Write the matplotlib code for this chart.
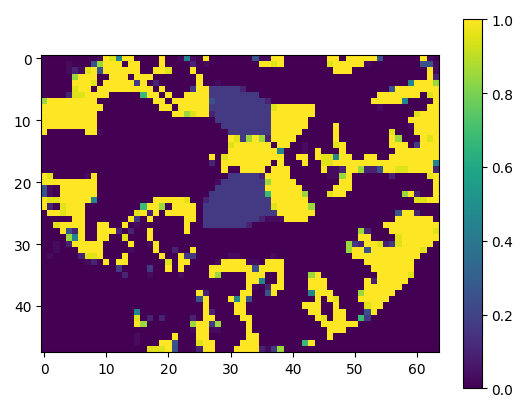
import numpy as np
import matplotlib
matplotlib.use("Agg")
import matplotlib.pyplot as plt

N_ROWS = 48
N_COLS = 64
LEVELS = {"a": 0.03, "p": 0.10, "b": 0.17, "B": 0.25, "T": 0.45, "G": 0.68,
          "L": 0.85, "l": 0.95, "#": 1.0}

# each row: "first-last:level" runs of cell values, everything else is 0
ROW_VALUES = [
    "9:a 10:# 11:l 12:T 13-14:# 19:# 22:a 23:T 24:a 26:# 34:B 35-36:a 37-38:# 46-47:# 49-53:# 54:B 61:# 62:a",
    "4:a 8:B 9:L 10-12:# 14-15:# 19:# 24:p 26:a 35-36:# 37:l 38:# 46:l 47-51:# 52:a 61-62:B 63:a",
    "4:a 5:p 6:a 7:l 8:# 9:B 10-15:# 18-19:# 20:l 24:# 47-49:# 62:# 63:a",
    "5:L 6-8:# 11-13:# 15-17:# 25:# 62:# 63:p",
    "5-7:# 8:l 10-14:# 15:b 16:# 18:p 25:# 28:a 59:T 60-62:# 63:L",
    "5:l 6-7:# 9-17:# 19:# 24:b 25-26:# 27-31:b 32:p 56:B 57-63:#",
    "4:p 5-6:l 7-10:# 16:G 17-18:# 20:# 23-26:# 27-34:b 54-60:# 62:l 63:#",
    "0:L 1-8:# 18-19:# 21-26:# 27:B 28-35:b 36:p 53-57:# 58:T 63:#",
    "0-9:# 19-20:# 22-26:# 27-36:b 37:l 38-43:# 54:a 62-63:#",
    "0-8:# 21-22:# 23:L 24:l 25-26:# 27:p 28-36:b 37-43:# 60:l 61-63:#",
    "0-8:# 28-36:b 37-42:# 59-63:#",
    "0-8:# 29-36:b 37-42:# 47:# 59:a 60-63:#",
    "0:# 7-8:# 9:a 30-36:b 37-41:# 47:# 56:l 60-63:#",
    "30:# 31:l 32:b 33:L 34:# 35:L 36:p 37-40:# 47:# 56:# 57:L 61:# 62:l 63:#",
    "30:l 31-36:# 38-39:# 42:a 47:l 48:# 56-58:# 60:b 61-63:#",
    "30-37:# 38:T 42:a 44:# 48:# 57-63:#",
    "27:# 29:l 30-38:# 41-42:# 44:# 45-46:l 47:T 48-49:# 52-53:# 56-63:#",
    "27:p 29-36:# 38:# 42:# 45-46:l 47-62:# 63:T",
    "29:# 32-35:# 37-39:# 45:# 46-47:a 48:p 49-50:# 51:L 52-53:p 54:B 55-56:# 57:l 58:l 59-62:# 63:p",
    "0:# 1:l 7:a 8:# 30-34:b 35:p 36-39:# 46-47:a 48:L 49:# 56:p 62:l 63:#",
    "0-8:# 28:a 29-35:b 36:L 37-40:# 48-49:# 63:#",
    "0:B 1:a 3-8:# 28-35:b 36-41:# 47-49:# 63:#",
    "0:B 1:a 3-8:# 27-35:b 36:G 37-41:# 42:L 46:l 47-48:# 58:L 59:# 60:p 63:#",
    "0:# 1-2:l 3-7:# 8:T 18-22:# 23:l 26:p 27-36:b 37-42:# 60-61:l 62-63:#",
    "0:# 1:p 3:l 4-6:# 16:G 17-18:# 19:L 21-24:# 26-36:b 37:l 38-42:# 43:L",
    "1-2:# 3:l 4-6:# 15:l 16:# 17:p 18:# 20-24:# 26-37:b 38-43:# 57:B 58-59:# 60:p",
    "5-6:# 14:# 15:b 17:# 23-24:# 26-34:b 35:p 36-38:a 39-42:# 57-62:#",
    "2:l 3-6:# 9-10:# 13:# 15:a 23:# 26-32:b 33:p 55-63:#",
    "3:# 4:B 5:p 6:# 9-11:# 12:p 14:p 17:# 23:# 51:L 52:p 56-62:# 63:l",
    "4:L 5:T 6:# 9-10:# 13:l 17:# 51-52:# 57:l 58-63:#",
    "2:a 4:p 5-9:# 14:# 17:a 18:# 49:L 50:b 51:p 52-53:# 54:l 55:p 56:b 57:l 58-62:#",
    "2:a 6-9:# 14:a 18:# 21:p 24:# 49:L 50-51:# 52:B 53-60:# 61:l",
    "1:a 6:p 7-8:l 9:# 13:# 19:# 22:# 23-24:b 30-31:a 37:a 50-60:#",
    "7:a 8:p 10:# 12-13:# 20:l 22-23:# 28:a 29-32:# 33-34:a 36-38:# 52-59:#",
    "12:b 17:b 20:# 22:# 27-33:# 34:B 35-38:# 53-59:#",
    "13:p 17:a 22:a 27:# 28:L 33-35:# 38:# 43:L 44:# 54-58:# 59:l",
    "33-34:# 35:T 38:# 43-45:# 52:# 53:p 54-58:#",
    "33:# 34:a 36:p 37-38:# 43-45:# 52-57:#",
    "25:# 26:p 32-33:# 36:B 37:# 43:T 44-46:# 51:L 52-56:#",
    "25:B 26:# 30:# 31:T 32:# 33:B 44:# 46:# 47:l 51-55:#",
    "26:# 31-32:# 42-44:# 47:# 52:l 53-54:#",
    "15:T 26:# 27:p 31-32:# 43-44:# 47-48:# 52:B 53:#",
    "15:l 17:p 19:p 24:p 26-27:# 32-33:# 44:# 45:l 47-48:# 51:G 52:b",
    "15:# 16:L 24:L 25-26:# 27:b 28:L 33:# 45-50:#",
    "24:a 25-26:# 27-28:a 33:# 46-48:#",
    "15:a 21:# 25-26:# 33-34:# 46:#",
    "15:a 19-20:# 21:B 25:l 26-27:# 32-34:# 42:G 43:#",
    "17:l 18-19:l 20:# 21:B 25:p 26-27:# 31-34:# 35:p 36:a 37:b 38:L",
]

X_TICKS = [0, 10, 20, 30, 40, 50, 60]
Y_TICKS = [0, 10, 20, 30, 40]
CBAR_TICKS = [0.0, 0.2, 0.4, 0.6, 0.8, 1.0]


def decode(rows):
    grid = np.zeros((N_ROWS, N_COLS))
    for r, text in enumerate(rows):
        for token in text.split():
            span, level = token.split(":")
            first, _, last = span.partition("-")
            grid[r, int(first):int(last or first) + 1] = LEVELS[level]
    return grid


values = decode(ROW_VALUES)

W, H = 527, 406
fig = plt.figure(figsize=(W / 100, H / 100), dpi=100)
ax = fig.add_axes([41.2 / W, 1 - 353.3 / H, 397.3 / W, 297 / H])
im = ax.imshow(values, cmap="viridis", vmin=0, vmax=1, interpolation="nearest", aspect="auto")
ax.set_xticks(X_TICKS)
ax.set_yticks(Y_TICKS)

cax = fig.add_axes([463.3 / W, 1 - 389.3 / H, 18.4 / W, 369 / H])
cbar = fig.colorbar(im, cax=cax)
cbar.set_ticks(CBAR_TICKS)

fig.savefig("out.png", dpi=100)
